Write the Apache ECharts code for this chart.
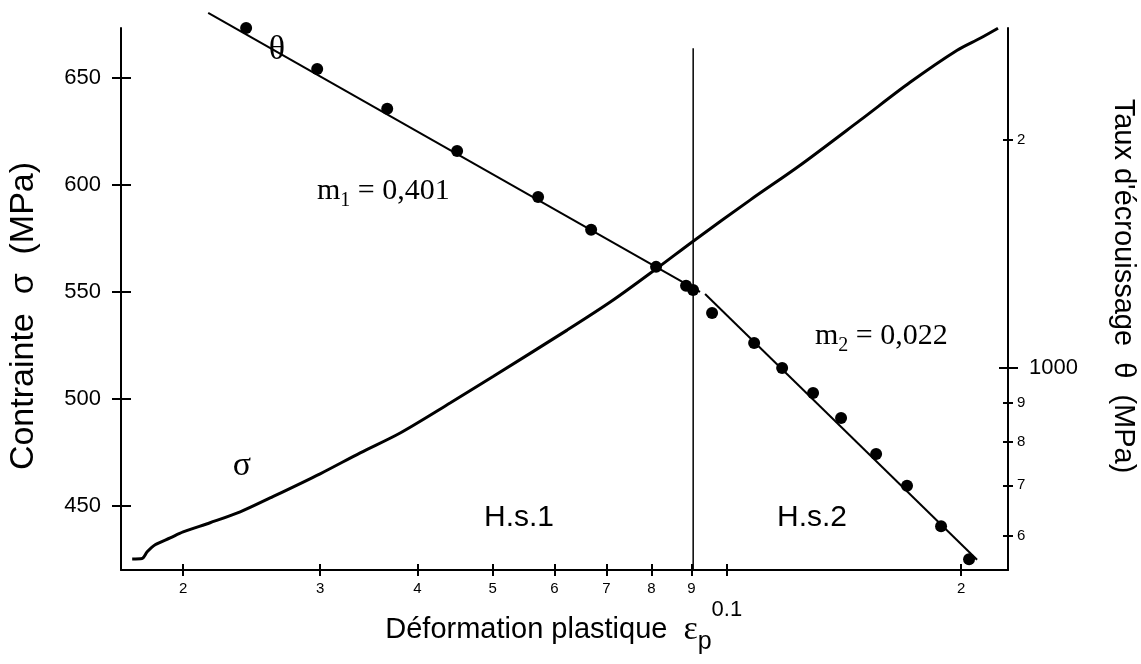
<!DOCTYPE html>
<html>
<head>
<meta charset="utf-8">
<script src="https://cdn.jsdelivr.net/npm/echarts@6/dist/echarts.min.js"></script>
<style>
  html, body { margin: 0; padding: 0; background: #fff; }
  #chart { width: 1141px; height: 664px; }
</style>
</head>
<body>
<div id="chart"></div>
<script>
// stress-strain curve sigma (left axis)
const sigmaStrain = [0.01720, 0.01771, 0.01798, 0.01841, 0.01925, 0.0200, 0.02166, 0.02368, 0.02587,
  0.0300, 0.03378, 0.03802, 0.04407, 0.05005, 0.06232, 0.07119, 0.08137, 0.0905, 0.1071, 0.1242, 0.1484,
  0.1720, 0.1977, 0.2116, 0.2231];
const sigmaStress = [425.2, 425.4, 428.5, 431.8, 435.0, 437.8, 442.1, 447.2, 453.7,
  465.0, 474.8, 484.1, 498.1, 510.5, 532.2, 545.9, 561.2, 573.8, 593.0, 609.3, 630.4,
  648.1, 663.1, 668.7, 673.4];

// work hardening rate theta (right axis, log)
const thetaStrain = [0.02410, 0.02974, 0.03659, 0.04500, 0.05719, 0.06691, 0.08109, 0.08862, 0.09048,
  0.09571, 0.10840, 0.11777, 0.12906, 0.14021, 0.15553, 0.17043, 0.18850, 0.20478];
const thetaValue = [2813, 2483, 2199, 1935, 1682, 1522, 1360, 1284, 1268,
  1182, 1079, 1000, 927, 859, 770, 699, 618, 559];

// fitted lines, stage 1 and stage 2
const fit1Strain = [0.02154, 0.09236];
const fit1Theta = [2944, 1260];
const fit2Strain = [0.09375, 0.2097];
const fit2Theta = [1252, 558];

// boundary between H.s.1 and H.s.2
const boundaryStrain = [0.0905, 0.0905];
const boundaryStress = [420, 664];

const xTickValues = [0.02, 0.03, 0.04, 0.05, 0.06, 0.07, 0.08, 0.09, 0.1, 0.2];
const xTickLabels = ['2', '3', '4', '5', '6', '7', '8', '9', '0.1', '2'];
const leftTickValues = [450, 500, 550, 600, 650];
const rightTickValues = [600, 700, 800, 900, 1000, 2000];
const rightTickLabels = ['6', '7', '8', '9', '1000', '2'];
const rightMajorTick = [1000];

const SANS = 'Liberation Sans';
const SERIF = 'Liberation Serif';
const X_MIN = 0.01664, X_MAX = 0.2298;
const L_MIN = 420, L_MAX = 673.5;
const R_MIN = 541, R_MAX = 2812;

function zip(a, b) {
  return a.map((v, i) => [v, b[i]]);
}
function pick(values, labels, value) {
  const i = values.findIndex((v) => Math.abs(v - value) / v < 1e-6);
  return i < 0 ? '' : labels[i];
}

const axisLine = { show: true, lineStyle: { color: '#000', width: 2 } };
const noLine = { show: false };
const tickStyle = { color: '#000', width: 2 };

// extra axes that only draw the other half of the ticks
function tickOnlyAxis(type, position, min, max, values, length, inside) {
  return {
    type: type, position: position, min: min, max: max,
    axisLine: noLine,
    axisTick: { show: true, inside: inside, length: length, customValues: values, lineStyle: tickStyle },
    axisLabel: { show: false },
    splitLine: { show: false },
  };
}

const chart = echarts.init(document.getElementById('chart'));
const option = {
  backgroundColor: '#fff',
  animation: false,
  grid: { left: 121, right: 133, top: 28, bottom: 94, containLabel: false, outerBoundsMode: 'none' },
  xAxis: [
    {
      type: 'log', position: 'bottom', min: X_MIN, max: X_MAX,
      axisLine: axisLine,
      axisTick: { show: true, inside: false, length: 6, customValues: xTickValues, lineStyle: tickStyle },
      minorTick: { show: false },
      splitLine: { show: false },
      axisLabel: {
        customValues: xTickValues, margin: 11, color: '#000',
        formatter: (v) => {
          const t = pick(xTickValues, xTickLabels, v);
          return t === '0.1' ? '{b|' + t + '}' : '{s|' + t + '}';
        },
        rich: {
          s: { fontFamily: SANS, fontSize: 15, color: '#000' },
          b: { fontFamily: SANS, fontSize: 22, color: '#000', padding: [18, 0, 0, 0] },
        },
      },
      name: '{a|Déformation plastique  }{e|ε}{p|p}',
      nameLocation: 'middle', nameGap: 44, nameMoveOverlap: false,
      nameTextStyle: {
        padding: [0, 32, 0, 0],
        rich: {
          a: { fontFamily: SANS, fontSize: 29, color: '#000', lineHeight: 32 },
          e: { fontFamily: SERIF, fontSize: 34, color: '#000', lineHeight: 32 },
          p: { fontFamily: SANS, fontSize: 25, color: '#000', lineHeight: 24, padding: [24, 0, 0, 0] },
        },
      },
    },
    tickOnlyAxis('log', 'bottom', X_MIN, X_MAX, xTickValues, 6, true),
  ],
  yAxis: [
    {
      type: 'value', position: 'left', min: L_MIN, max: L_MAX,
      axisLine: axisLine,
      axisTick: { show: true, length: 9, customValues: leftTickValues, lineStyle: tickStyle },
      splitLine: { show: false },
      axisLabel: { customValues: leftTickValues, margin: 20, color: '#000', fontFamily: SANS, fontSize: 22 },
      name: 'Contrainte  σ  (MPa)',
      nameLocation: 'middle', nameGap: 80, nameRotate: 90, nameMoveOverlap: false,
      nameTextStyle: { fontFamily: SANS, fontSize: 34, color: '#000', padding: [0, 34, 0, 0] },
    },
    {
      type: 'log', position: 'right', min: R_MIN, max: R_MAX,
      axisLine: axisLine,
      axisTick: { show: true, length: 5, customValues: rightTickValues, lineStyle: tickStyle },
      minorTick: { show: false },
      splitLine: { show: false },
      axisLabel: {
        customValues: rightTickValues, margin: 9, color: '#000',
        formatter: (v) => {
          const t = pick(rightTickValues, rightTickLabels, v);
          return t === '1000' ? '{b|' + t + '}' : '{s|' + t + '}';
        },
        rich: {
          s: { fontFamily: SANS, fontSize: 15, color: '#000' },
          b: { fontFamily: SANS, fontSize: 22, color: '#000', padding: [0, 0, 0, 12] },
        },
      },
      name: "Taux d'écrouissage  θ  (MPa)",
      nameLocation: 'middle', nameGap: 100, nameRotate: -90, nameMoveOverlap: false,
      nameTextStyle: { fontFamily: SANS, fontSize: 29, color: '#000', padding: [0, 26, 0, 0] },
    },
    tickOnlyAxis('value', 'left', L_MIN, L_MAX, leftTickValues, 10, true),
    tickOnlyAxis('log', 'right', R_MIN, R_MAX, rightTickValues, 5, true),
    tickOnlyAxis('log', 'right', R_MIN, R_MAX, rightMajorTick, 10, false),
    tickOnlyAxis('log', 'right', R_MIN, R_MAX, rightMajorTick, 9, true),
  ],
  series: [
    {
      name: 'sigma', type: 'line', xAxisIndex: 0, yAxisIndex: 0,
      data: zip(sigmaStrain, sigmaStress),
      smooth: 0.3, showSymbol: false, symbol: 'none',
      lineStyle: { color: '#000', width: 3 },
    },
    {
      name: 'boundary', type: 'line', xAxisIndex: 0, yAxisIndex: 0,
      data: zip(boundaryStrain, boundaryStress),
      showSymbol: false, symbol: 'none',
      lineStyle: { color: '#000', width: 1.5 },
    },
    {
      name: 'fit1', type: 'line', xAxisIndex: 0, yAxisIndex: 1,
      data: zip(fit1Strain, fit1Theta), clip: false,
      showSymbol: false, symbol: 'none',
      lineStyle: { color: '#000', width: 2 },
    },
    {
      name: 'fit2', type: 'line', xAxisIndex: 0, yAxisIndex: 1,
      data: zip(fit2Strain, fit2Theta), clip: false,
      showSymbol: false, symbol: 'none',
      lineStyle: { color: '#000', width: 2 },
    },
    {
      name: 'theta', type: 'scatter', xAxisIndex: 0, yAxisIndex: 1,
      data: zip(thetaStrain, thetaValue), clip: false,
      symbol: 'circle', symbolSize: 12,
      itemStyle: { color: '#000', opacity: 1 },
    },
  ],
  graphic: [
    { type: 'text', x: 277, y: 50, style: { text: 'θ', fontFamily: SERIF, fontSize: 34, fill: '#000', align: 'center', verticalAlign: 'middle' } },
    { type: 'text', x: 242, y: 466, style: { text: 'σ', fontFamily: SERIF, fontSize: 34, fill: '#000', align: 'center', verticalAlign: 'middle' } },
    {
      type: 'text', x: 317, y: 176,
      style: {
        text: '{m|m}{s|1}{m| = 0,401}', align: 'left', verticalAlign: 'top',
        rich: {
          m: { fontFamily: SERIF, fontSize: 30, fill: '#000', lineHeight: 30 },
          s: { fontFamily: SERIF, fontSize: 20, fill: '#000', lineHeight: 20, padding: [20, 0, 0, 0] },
        },
      },
    },
    {
      type: 'text', x: 815, y: 321,
      style: {
        text: '{m|m}{s|2}{m| = 0,022}', align: 'left', verticalAlign: 'top',
        rich: {
          m: { fontFamily: SERIF, fontSize: 30, fill: '#000', lineHeight: 30 },
          s: { fontFamily: SERIF, fontSize: 20, fill: '#000', lineHeight: 20, padding: [20, 0, 0, 0] },
        },
      },
    },
    { type: 'text', x: 519, y: 518, style: { text: 'H.s.1', fontFamily: SANS, fontSize: 30, fill: '#000', align: 'center', verticalAlign: 'middle' } },
    { type: 'text', x: 812, y: 518, style: { text: 'H.s.2', fontFamily: SANS, fontSize: 30, fill: '#000', align: 'center', verticalAlign: 'middle' } },
  ],
};
chart.setOption(option);
</script>
</body>
</html>
